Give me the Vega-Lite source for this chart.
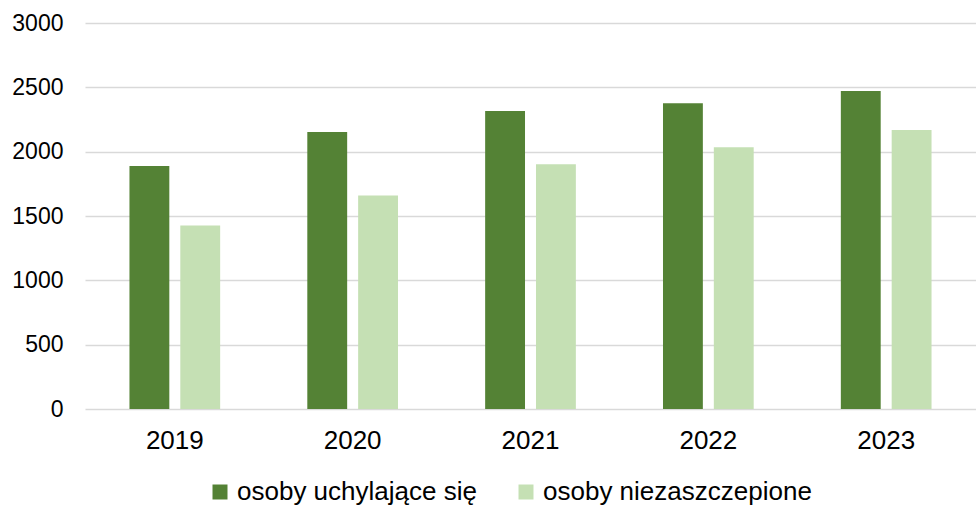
{
  "$schema": "https://vega.github.io/schema/vega-lite/v6.json",
  "width": 891,
  "height": 386,
  "autosize": {"type": "none"},
  "padding": {"left": 85, "top": 23, "right": 0, "bottom": 97},
  "background": "#ffffff",
  "config": {"view": {"stroke": null}, "font": "Liberation Sans"},
  "data": {
    "values": [
      {"rok": "2019", "kategoria": "osoby uchylające się", "wartosc": 1888},
      {"rok": "2019", "kategoria": "osoby niezaszczepione", "wartosc": 1426},
      {"rok": "2020", "kategoria": "osoby uchylające się", "wartosc": 2152},
      {"rok": "2020", "kategoria": "osoby niezaszczepione", "wartosc": 1660},
      {"rok": "2021", "kategoria": "osoby uchylające się", "wartosc": 2316},
      {"rok": "2021", "kategoria": "osoby niezaszczepione", "wartosc": 1903},
      {"rok": "2022", "kategoria": "osoby uchylające się", "wartosc": 2376},
      {"rok": "2022", "kategoria": "osoby niezaszczepione", "wartosc": 2034},
      {"rok": "2023", "kategoria": "osoby uchylające się", "wartosc": 2471},
      {"rok": "2023", "kategoria": "osoby niezaszczepione", "wartosc": 2169}
    ]
  },
  "mark": {"type": "bar"},
  "encoding": {
    "x": {
      "field": "rok",
      "type": "nominal",
      "scale": {"paddingInner": 0.49, "paddingOuter": 0.25},
      "axis": {
        "title": null,
        "labelAngle": 0,
        "labelFontSize": 26,
        "labelColor": "#000000",
        "ticks": false,
        "domain": false,
        "labelPadding": 18
      }
    },
    "xOffset": {
      "field": "kategoria",
      "type": "nominal",
      "sort": ["osoby uchylające się", "osoby niezaszczepione"],
      "scale": {"paddingInner": 0.216, "paddingOuter": 0}
    },
    "y": {
      "field": "wartosc",
      "type": "quantitative",
      "scale": {"domain": [0, 3000]},
      "axis": {
        "title": null,
        "values": [0, 500, 1000, 1500, 2000, 2500, 3000],
        "format": "d",
        "labelFontSize": 23,
        "labelColor": "#000000",
        "labelPadding": 22,
        "ticks": false,
        "domain": false,
        "gridColor": "#D9D9D9",
        "gridWidth": 1.5
      }
    },
    "color": {
      "field": "kategoria",
      "type": "nominal",
      "sort": ["osoby uchylające się", "osoby niezaszczepione"],
      "scale": {
        "domain": ["osoby uchylające się", "osoby niezaszczepione"],
        "range": ["#548235", "#C5E0B4"]
      },
      "legend": {
        "title": null,
        "orient": "none",
        "direction": "horizontal",
        "legendX": 122,
        "legendY": 456,
        "padding": 0,
        "symbolType": "square",
        "symbolSize": 225,
        "symbolStrokeWidth": 0,
        "symbolOpacity": 1,
        "labelFontSize": 26,
        "labelLimit": 0,
        "labelColor": "#000000",
        "labelOffset": 4,
        "columnPadding": 36
      }
    }
  }
}
